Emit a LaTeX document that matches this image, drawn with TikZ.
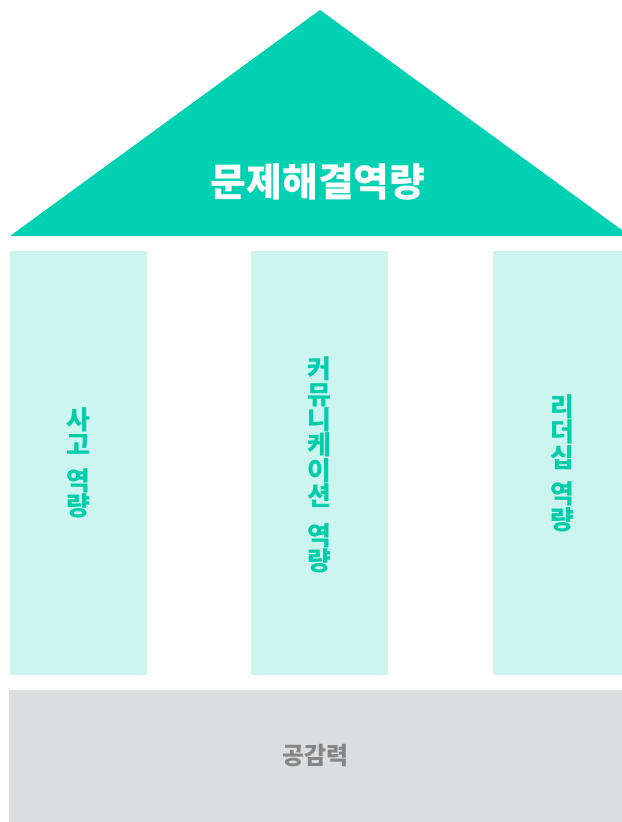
\documentclass[tikz,border=0pt]{standalone}
\usepackage{fontspec}
\newfontfamily\kr{Noto Sans CJK KR}
\definecolor{roofc}{HTML}{00D1B2}
\definecolor{pillarc}{HTML}{CDF5EF}
\definecolor{pillartxt}{HTML}{00CDAA}
\definecolor{basec}{HTML}{DCDDDF}
\definecolor{basetxt}{HTML}{858585}
\tikzset{
  pillar/.style={fill=pillarc, draw=none, minimum width=137bp, minimum height=424bp, inner sep=0pt},
  pillartext/.style={text=pillartxt, font=\kr\bfseries\fontsize{26}{25.5}\selectfont, align=center, inner sep=0pt},
}
\begin{document}
\begin{tikzpicture}[x=1bp,y=-1bp]
\useasboundingbox (0,0) rectangle (622,822);
% roof
\fill[roofc] (320,10) coordinate (apex) -- (630,236) coordinate (rb) -- (10,236) coordinate (lb) -- cycle;
\node[text=white, font=\kr\bfseries\fontsize{39}{44}\selectfont, inner sep=0pt] (roof) at (318,182) {문제해결역량};
% pillars
\node[pillar] (p1) at (78.5,463) {};
\node[pillar] (p2) at (319.5,463) {};
\node[pillar] (p3) at (561.5,463) {};
\node[pillartext] (t1) at (78,463) {사\\고\\[10bp]역\\량};
\node[pillartext] (t2) at (319,465) {커\\뮤\\니\\케\\이\\션\\[14bp]역\\량};
\node[pillartext] (t3) at (562,463) {리\\더\\십\\[11bp]역\\량};
% base
\node[fill=basec, draw=none, minimum width=621bp, minimum height=140bp, inner sep=0pt] (base) at (319.5,760) {};
\node[text=basetxt, font=\kr\bfseries\fontsize{24}{28}\selectfont, inner sep=0pt] (btxt) at (315,756) {공감력};
\end{tikzpicture}
\end{document}
